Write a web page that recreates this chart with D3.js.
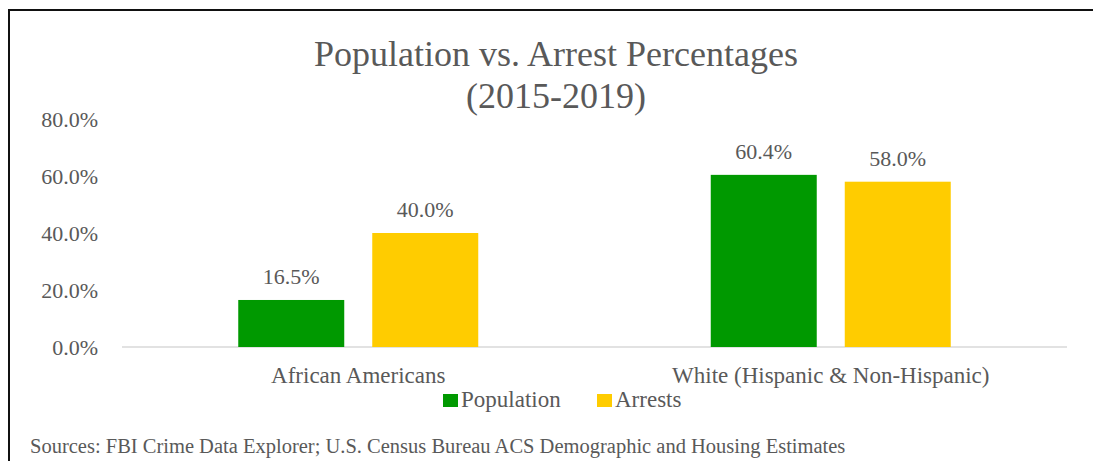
<!DOCTYPE html>
<html>
<head>
<meta charset="utf-8">
<script src="https://cdn.jsdelivr.net/npm/d3@7"></script>
<style>
  body { margin: 0; background: #fff; }
  svg text { font-family: "Liberation Serif", "DejaVu Serif", serif; fill: #595959; }
</style>
</head>
<body>
<div id="chart"></div>
<script>
// Datos del gráfico
const categories = ["African Americans", "White (Hispanic & Non-Hispanic)"];
const seriesNames = ["Population", "Arrests"];
const population = [16.5, 60.4];
const arrests = [40.0, 58.0];
const yTicks = [0, 20, 40, 60, 80];
const colors = ["#009900", "#FFCC00"];

const width = 1093;
const height = 461;
const margin = { top: 119, right: 26, bottom: 114, left: 122 };

const svg = d3.select("#chart")
    .append("svg")
    .attr("width", width)
    .attr("height", height);

// Marco exterior
svg.append("rect")
    .attr("x", 9).attr("y", 10)
    .attr("width", width).attr("height", height)
    .attr("fill", "none")
    .attr("stroke", "#111")
    .attr("stroke-width", 2);

const x0 = d3.scaleBand()
    .domain(categories)
    .range([margin.left, width - margin.right])
    .paddingInner(0)
    .paddingOuter(0);

const x1 = d3.scaleBand()
    .domain(seriesNames)
    .range([0, 240])
    .paddingInner(0.209);

const y = d3.scaleLinear()
    .domain([0, 80])
    .range([height - margin.bottom, margin.top]);

// Eje Y (solo etiquetas)
svg.append("g")
    .attr("transform", `translate(${margin.left - 21},0)`)
    .call(d3.axisLeft(y).tickValues(yTicks).tickSize(0).tickFormat(d => d.toFixed(1) + "%"))
    .call(g => g.select(".domain").remove())
    .selectAll("text")
    .style("font-size", "22px")
    .style("fill", "#595959");

// Línea base
svg.append("line")
    .attr("x1", margin.left).attr("x2", width - margin.right)
    .attr("y1", y(0)).attr("y2", y(0))
    .attr("stroke", "#d9d9d9")
    .attr("stroke-width", 1.5);

// Barras
const rows = categories.map((c, i) => ({ category: c, values: [population[i], arrests[i]] }));

const groups = svg.selectAll(".group")
    .data(rows)
    .enter()
    .append("g")
    .attr("class", "group")
    .attr("transform", d => `translate(${x0(d.category) + x0.bandwidth() / 2 - 120},0)`);

groups.selectAll("rect")
    .data(d => d.values.map((v, j) => ({ key: seriesNames[j], value: v, j })))
    .enter()
    .append("rect")
    .attr("x", d => x1(d.key))
    .attr("y", d => y(d.value))
    .attr("width", x1.bandwidth())
    .attr("height", d => y(0) - y(d.value))
    .attr("fill", d => colors[d.j]);

groups.selectAll(".label")
    .data(d => d.values.map((v, j) => ({ key: seriesNames[j], value: v })))
    .enter()
    .append("text")
    .attr("class", "label")
    .attr("x", d => x1(d.key) + x1.bandwidth() / 2)
    .attr("y", d => y(d.value) - 16)
    .attr("text-anchor", "middle")
    .style("font-size", "22px")
    .text(d => d.value.toFixed(1) + "%");

// Etiquetas de categoría
svg.append("g")
    .attr("transform", `translate(0,${y(0)})`)
    .call(d3.axisBottom(x0).tickSize(0).tickPadding(20))
    .call(g => g.select(".domain").remove())
    .selectAll("text")
    .style("font-size", "23px")
    .style("fill", "#595959");

// Título
const title = svg.append("text")
    .attr("x", 556)
    .attr("text-anchor", "middle")
    .style("font-size", "36px");
title.append("tspan").attr("x", 556).attr("y", 66).text("Population vs. Arrest Percentages");
title.append("tspan").attr("x", 556).attr("y", 108).text("(2015-2019)");

// Leyenda
const legendX = [443, 597];
const legend = svg.selectAll(".legend")
    .data(seriesNames)
    .enter()
    .append("g")
    .attr("class", "legend")
    .attr("transform", (d, i) => `translate(${legendX[i]},394)`);

legend.append("rect")
    .attr("x", 0).attr("y", 0)
    .attr("width", 15).attr("height", 13)
    .attr("fill", (d, i) => colors[i]);

legend.append("text")
    .attr("x", 18).attr("y", 13)
    .style("font-size", "23px")
    .text(d => d);

// Fuentes
svg.append("text")
    .attr("x", 30).attr("y", 453)
    .style("font-size", "20.5px")
    .text("Sources: FBI Crime Data Explorer; U.S. Census Bureau ACS Demographic and Housing Estimates");
</script>
</body>
</html>
